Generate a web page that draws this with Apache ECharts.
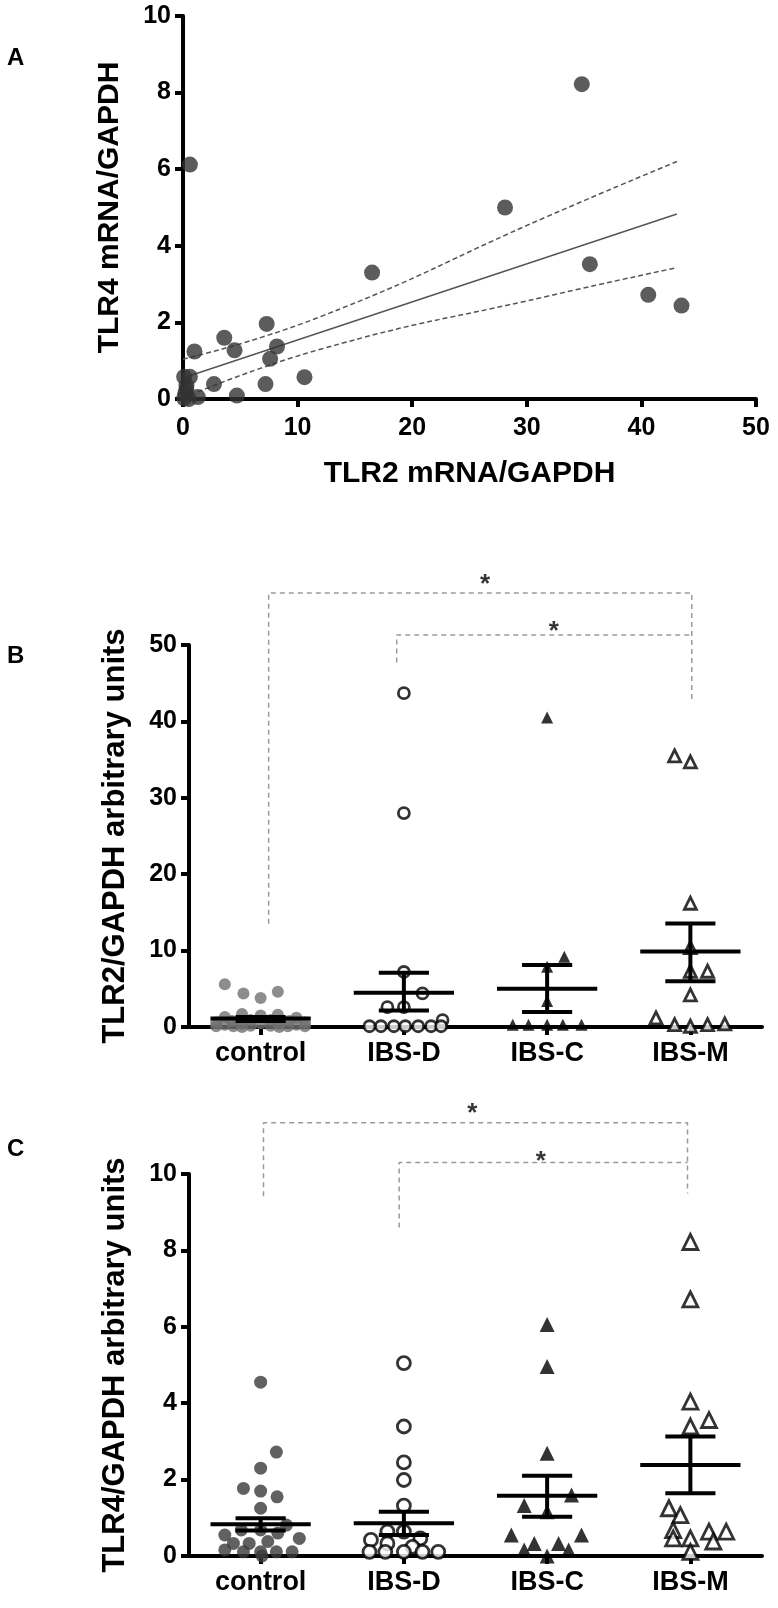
<!DOCTYPE html>
<html>
<head>
<meta charset="utf-8">
<script src="https://cdn.jsdelivr.net/npm/echarts@6/dist/echarts.min.js"></script>
<style>html,body{margin:0;padding:0;background:#fff}#c{width:778px;height:1608px}</style>
</head>
<body>
<div id="c"></div>
<script>
// ---------- Panel A data ----------
const aPoints = [[0.6,6.12],[34.8,8.22],[28.1,5.0],[16.5,3.3],[35.5,3.52],[40.6,2.72],[43.5,2.44],
  [7.3,1.96],[3.6,1.6],[4.5,1.27],[1.0,1.24],[8.2,1.37],[7.6,1.05],[10.6,0.57],[7.2,0.39],[2.7,0.39],
  [4.7,0.09],[1.3,0.05],[0.1,0.58],[0.6,0.58],[0.3,0.35],[0.2,0.15],[0.1,0.02],[0.5,0.0],[0.3,0.25]];
const aFit = [[0,0.55],[43.1,4.83]];
const aUpper = [[0,1.04],[12,2.15],[31.9,4.78],[43.1,6.2]];
const aLower = [[0,0.02],[12,1.3],[31.9,2.69],[43.1,3.43]];
const aXTicks = [0,50,10];
const aYTicks = [0,10,2];

// ---------- Shared ----------
const groups = ['control','IBS-D','IBS-C','IBS-M'];

// ---------- Panel B data (x = group index + jitter) ----------
const bControl = [[-0.25,5.6],[-0.12,4.4],[0.0,3.8],[0.12,4.6],[-0.13,1.7],[0.0,1.5],[0.12,1.6],[-0.25,1.3],[0.25,1.2],
  [-0.31,0.6],[-0.2,0.8],[-0.07,0.9],[0.07,0.9],[0.2,0.8],[0.31,0.6],[-0.25,0.3],[-0.13,0.4],[0.0,0.5],[0.13,0.4],[0.25,0.3],
  [-0.31,0.1],[-0.19,0.1],[-0.07,0.15],[0.07,0.15],[0.19,0.1],[0.31,0.1],[-0.13,0.0],[0.13,0.0]];
const bIBSD = [[1,43.7],[1,28.0],[1,7.2],[1.13,4.4],[0.885,2.6],[1,2.6],[1.27,0.9],
  [0.76,0.1],[0.84,0.1],[0.93,0.1],[1.01,0.1],[1.1,0.1],[1.19,0.1],[1.26,0.1]];
const bIBSC = [[2,40.5],[2.12,9.2],[2,7.9],[2,3.4],[1.76,0.3],[1.87,0.3],[2,0.3],[2.11,0.3],[2.24,0.3]];
const bIBSM = [[2.89,35.5],[3,34.7],[3,16.2],[3,10.4],[3,7.3],[3.12,7.3],[3,4.2],[2.76,1.2],
  [2.89,0.3],[3,0.1],[3.12,0.3],[3.24,0.4]];
const bStats = [[0,1.1,0.8,1.3],[1,4.47,2.15,7.1],[2,5.0,1.97,8.1],[3,9.87,6.0,13.55]]; // [group, mean, SEM low, SEM high]
const bBracket1 = [[0.056,13.5],[0.056,56.8],[3.01,56.8],[3.01,42.7]];
const bBracket2 = [[0.95,47.7],[0.95,51.3],[3.01,51.3]];
const bStars = [[1.566,58.5],[2.047,52.4]];
const bYTicks = [0,50,10];

// ---------- Panel C data ----------
const cControl = [[0,4.55],[0.11,2.72],[0,2.3],[-0.12,1.77],[0,1.7],[0.115,1.55],[0,1.25],[0.18,0.81],
  [-0.25,0.55],[-0.135,0.68],[0,0.68],[0.12,0.6],[0.27,0.46],[-0.19,0.33],[-0.08,0.33],[0.05,0.38],
  [-0.12,0.11],[0,0.11],[0.11,0.11],[0.22,0.11],[-0.25,0.16],[0.01,0.0]];
const cIBSD = [[1,5.05],[1,3.39],[1,2.45],[1,1.99],[1,1.32],[0.885,0.64],[1,0.64],[0.77,0.42],[1.115,0.46],
  [0.885,0.33],[1.06,0.24],[0.76,0.11],[0.87,0.11],[1,0.11],[1.13,0.11],[1.24,0.11]];
const cIBSC = [[2,6.06],[2,4.96],[2,2.69],[2.17,1.6],[1.84,1.32],[2,1.16],[1.75,0.55],[2.24,0.55],
  [1.91,0.33],[2.08,0.33],[1.84,0.16],[2.15,0.16],[2,0.0]];
const cIBSM = [[3,8.22],[3,6.72],[3,4.04],[3.13,3.56],[3,3.39],[2.85,1.25],[2.93,1.07],[2.88,0.68],
  [3.13,0.64],[3.25,0.64],[3,0.46],[2.88,0.46],[3.16,0.38],[3,0.11]];
const cStats = [[0,0.83,0.67,0.99],[1,0.86,0.55,1.16],[2,1.58,1.03,2.1],[3,2.38,1.64,3.13]];
const cBracket1 = [[0.02,9.42],[0.02,11.34],[2.98,11.34],[2.98,9.49]];
const cBracket2 = [[0.967,8.6],[0.967,10.3],[2.98,10.3]];
const cStars = [[1.477,11.7],[1.956,10.45]];
const cYTicks = [0,10,2];

// ---------- Styling / layout ----------
const FONT = '"Liberation Sans", Arial, sans-serif';
const axisLineX = {show:true, onZero:false, lineStyle:{color:'#000', width:4}};
const axisLineY = {show:true, onZero:false, lineStyle:{color:'#000', width:4}};
const axisTick = {show:true, inside:false, length:8, lineStyle:{color:'#000', width:4}};
function tickLabel(size, margin){ return {color:'#000', fontFamily:FONT, fontWeight:'bold', fontSize:size, margin:margin}; }
const nameStyle = (s)=>({color:'#000', fontFamily:FONT, fontWeight:'bold', fontSize:s});

function valueAxis(gridIndex, t, line, labelMargin, extra){
  return Object.assign({type:'value', gridIndex, min:t[0], max:t[1], interval:t[2],
    axisLine:line, axisTick, splitLine:{show:false}, axisLabel:tickLabel(25,labelMargin)}, extra||{});
}

const chart = echarts.init(document.getElementById('c'), null, {renderer:'canvas'});

function errRender(params, api){
  const g = api.value(0), m = api.value(1), lo = api.value(2), hi = api.value(3);
  const st = {stroke:'#000', lineWidth:4};
  const seg = (x1,y1,x2,y2)=>{ const p1 = api.coord([x1,y1]), p2 = api.coord([x2,y2]);
    return {type:'line', shape:{x1:p1[0],y1:p1[1],x2:p2[0],y2:p2[1]}, style:st}; };
  return {type:'group', children:[
    seg(g,lo,g,hi), seg(g-0.35,m,g+0.35,m), seg(g-0.175,lo,g+0.175,lo), seg(g-0.175,hi,g+0.175,hi)
  ]};
}

function dotPanelSeries(xi, yi, ctrl, ctrlColor, d, c, m, stats, br1, br2, stars, sz){
  const open = {color:'#fff', borderColor:'#000', borderWidth:2.8};
  const bracketStyle = {color:'#9a9a9a', width:1.5, type:[5,4]};
  return [
    {type:'scatter', xAxisIndex:xi, yAxisIndex:yi, data:ctrl, symbol:'circle', symbolSize:sz.ctrl, itemStyle:{color:ctrlColor}, z:2},
    {type:'scatter', xAxisIndex:xi, yAxisIndex:yi, data:d, symbol:'circle', symbolSize:sz.circ, itemStyle:open, z:2},
    {type:'scatter', xAxisIndex:xi, yAxisIndex:yi, data:c, symbol:'triangle', symbolSize:sz.tri, itemStyle:{color:'#000'}, z:2},
    {type:'scatter', xAxisIndex:xi, yAxisIndex:yi, data:m, symbol:'triangle', symbolSize:sz.tri, itemStyle:open, z:2},
    {type:'custom', xAxisIndex:xi, yAxisIndex:yi, data:stats, renderItem:errRender, z:5, clip:false},
    {type:'line', xAxisIndex:xi, yAxisIndex:yi, data:br1, symbol:'none', lineStyle:bracketStyle, clip:false, z:1},
    {type:'line', xAxisIndex:xi, yAxisIndex:yi, data:br2, symbol:'none', lineStyle:bracketStyle, clip:false, z:1},
    {type:'scatter', xAxisIndex:xi, yAxisIndex:yi, data:stars, symbolSize:2, itemStyle:{color:'rgba(0,0,0,0)'}, clip:false, z:6,
      label:{show:true, position:'inside', formatter:'*', color:'#000', fontFamily:FONT, fontWeight:'bold', fontSize:26, offset:[0,5]}}
  ];
}

const option = {
  animation:false,
  backgroundColor:'#fff',
  grid:[
    {left:183, top:16, width:573, height:383},
    {left:189, top:645, width:573, height:382},
    {left:189, top:1174, width:573, height:382}
  ],
  xAxis:[
    valueAxis(0, aXTicks, axisLineX, 17, {name:'TLR2 mRNA/GAPDH', nameLocation:'middle', nameGap:60, nameTextStyle:nameStyle(30)}),
    {type:'category', gridIndex:1, data:groups, boundaryGap:true, axisLine:axisLineX, axisTick:Object.assign({alignWithLabel:true}, axisTick),
      axisLabel:tickLabel(27,13)},
    {type:'value', gridIndex:1, min:-0.5, max:3.5, show:false},
    {type:'category', gridIndex:2, data:groups, boundaryGap:true, axisLine:axisLineX, axisTick:Object.assign({alignWithLabel:true}, axisTick),
      axisLabel:tickLabel(27,13)},
    {type:'value', gridIndex:2, min:-0.5, max:3.5, show:false}
  ],
  yAxis:[
    valueAxis(0, aYTicks, axisLineY, 12, {name:'TLR4 mRNA/GAPDH', nameLocation:'middle', nameGap:58, nameTextStyle:nameStyle(30)}),
    valueAxis(1, bYTicks, axisLineY, 12, {name:'TLR2/GAPDH arbitrary units', nameLocation:'middle', nameGap:58, nameTextStyle:nameStyle(31)}),
    valueAxis(2, cYTicks, axisLineY, 12, {name:'TLR4/GAPDH arbitrary units', nameLocation:'middle', nameGap:58, nameTextStyle:nameStyle(31)})
  ],
  graphic:[
    {type:'text', left:7, top:46, style:{text:'A', font:'bold 24px '+FONT, fill:'#000'}},
    {type:'text', left:7, top:644, style:{text:'B', font:'bold 24px '+FONT, fill:'#000'}},
    {type:'text', left:7, top:1137, style:{text:'C', font:'bold 24px '+FONT, fill:'#000'}}
  ],
  series:[
    {type:'scatter', xAxisIndex:0, yAxisIndex:0, data:aPoints, symbol:'circle', symbolSize:16, itemStyle:{color:'#333'}, clip:false, z:3},
    {type:'line', xAxisIndex:0, yAxisIndex:0, data:aFit, symbol:'none', lineStyle:{color:'#555', width:1.5}, z:2},
    {type:'line', xAxisIndex:0, yAxisIndex:0, data:aUpper, symbol:'none', smooth:true, lineStyle:{color:'#555', width:1.5, type:[5,3]}, z:2},
    {type:'line', xAxisIndex:0, yAxisIndex:0, data:aLower, symbol:'none', smooth:true, lineStyle:{color:'#555', width:1.5, type:[5,3]}, z:2}
  ].concat(
    dotPanelSeries(2, 1, bControl, '#707070', bIBSD, bIBSC, bIBSM, bStats, bBracket1, bBracket2, bStars, {ctrl:12, circ:11, tri:12}),
    dotPanelSeries(4, 2, cControl, '#3a3a3a', cIBSD, cIBSC, cIBSM, cStats, cBracket1, cBracket2, cStars, {ctrl:13, circ:13, tri:15})
  )
};
chart.setOption(option);
</script>
</body>
</html>
